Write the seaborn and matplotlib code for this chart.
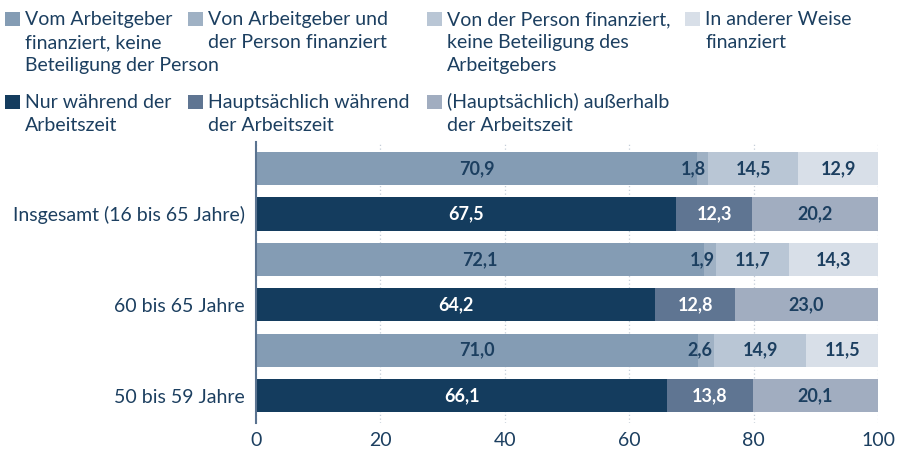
import numpy as np
import pandas as pd
import matplotlib.pyplot as plt
import seaborn as sns
from matplotlib.patches import Rectangle

#%% data
groups = ['Insgesamt (16 bis 65 Jahre)', '60 bis 65 Jahre', '50 bis 59 Jahre']

fin_labels = ['Vom Arbeitgeber\nfinanziert, keine\nBeteiligung der Person',
              'Von Arbeitgeber und\nder Person finanziert',
              'Von der Person finanziert,\nkeine Beteiligung des\nArbeitgebers',
              'In anderer Weise\nfinanziert']
time_labels = ['Nur während der\nArbeitszeit',
               'Hauptsächlich während\nder Arbeitszeit',
               '(Hauptsächlich) außerhalb\nder Arbeitszeit']

fin_values = [[70.9, 1.8, 14.5, 12.9],
              [72.1, 1.9, 11.7, 14.3],
              [71.0, 2.6, 14.9, 11.5]]
time_values = [[67.5, 12.3, 20.2],
               [64.2, 12.8, 23.0],
               [66.1, 13.8, 20.1]]

fin_colors = ['#849cb4', '#9fb1c4', '#b9c6d5', '#d8dfe8']
time_colors = ['#143c5e', '#5f7592', '#a1adc0']
time_txt = ['white', 'white', '#1c3f60']
txt_col = '#1c3f60'

#%% style
sns.set_style('white')
plt.rcParams['font.family'] = ['Lato', 'DejaVu Sans']

fig = plt.figure(figsize=(8.97, 4.49), dpi=100)
W, H = 897, 449
ax = fig.add_axes([256 / W, 1 - 423 / H, (878 - 256) / W, (423 - 142) / H])

bh = 0.733  # bar thickness in row units
fin_rows = np.array([0, 2, 4])
time_rows = np.array([1, 3, 5])

fin_arr = np.array(fin_values)
time_arr = np.array(time_values)
fin_cum = fin_arr.cumsum(axis=1)
time_cum = time_arr.cumsum(axis=1)

# draw cumulative bars from longest to shortest so each segment shows
for cum, rows, colors in [(fin_cum, fin_rows, fin_colors), (time_cum, time_rows, time_colors)]:
    for k in reversed(range(cum.shape[1])):
        sns.barplot(x=cum[:, k], y=rows, orient='h', native_scale=True,
                    color=colors[k], saturation=1, width=bh / 2,
                    errorbar=None, linewidth=0, ax=ax)

# value labels
def fmt(v):
    return '{:.1f}'.format(v).replace('.', ',')

for i in range(len(groups)):
    left = 0
    for k, v in enumerate(fin_values[i]):
        if v < 5:
            ax.text(left + v - 0.3, fin_rows[i], fmt(v), ha='right', va='center',
                    color=txt_col, fontsize=13, fontweight='bold')
        else:
            ax.text(left + v / 2, fin_rows[i], fmt(v), ha='center', va='center',
                    color=txt_col, fontsize=13, fontweight='bold')
        left += v
    left = 0
    for k, v in enumerate(time_values[i]):
        ax.text(left + v / 2, time_rows[i], fmt(v), ha='center', va='center',
                color=time_txt[k], fontsize=13, fontweight='bold')
        left += v

ax.set_xlim(0, 100)
ax.set_ylim(5.6, -0.58)
ax.set_xticks([0, 20, 40, 60, 80, 100])
ax.set_yticks(time_rows)
ax.set_yticklabels(groups)
ax.set_xlabel('')
ax.set_ylabel('')
ax.tick_params(axis='y', length=0, labelsize=14, labelcolor=txt_col, pad=8)
ax.tick_params(axis='x', length=5, width=0.8, color='#c5ced8', labelsize=14,
               labelcolor=txt_col, pad=1.5)
ax.xaxis.grid(True, color='#c5ced8', linestyle=(0, (1, 2)), linewidth=0.9)
ax.yaxis.grid(False)
ax.set_axisbelow(True)
for s in ['top', 'right', 'bottom']:
    ax.spines[s].set_visible(False)
ax.spines['left'].set_color('#5a7390')
ax.spines['left'].set_linewidth(1.5)

#%% legend drawn by hand, marker aligned with first line
def legend_item(px, py, color, label):
    # px: square left, py: first baseline (pixels from top)
    fig.patches.append(Rectangle((px / W, 1 - (py + 0.5) / H), 15 / W, 14 / H,
                                 transform=fig.transFigure, facecolor=color,
                                 edgecolor='none'))
    for j, line in enumerate(label.split('\n')):
        fig.text((px + 20) / W, 1 - (py + j * 23) / H, line, ha='left',
                 va='baseline', fontsize=14, color=txt_col)

cols_x = [5, 188, 427, 685]
for k, lab in enumerate(fin_labels):
    legend_item(cols_x[k], 25, fin_colors[k], lab)
for k, lab in enumerate(time_labels):
    legend_item(cols_x[k], 108, time_colors[k], lab)

fig.savefig('out.png', dpi=100)
